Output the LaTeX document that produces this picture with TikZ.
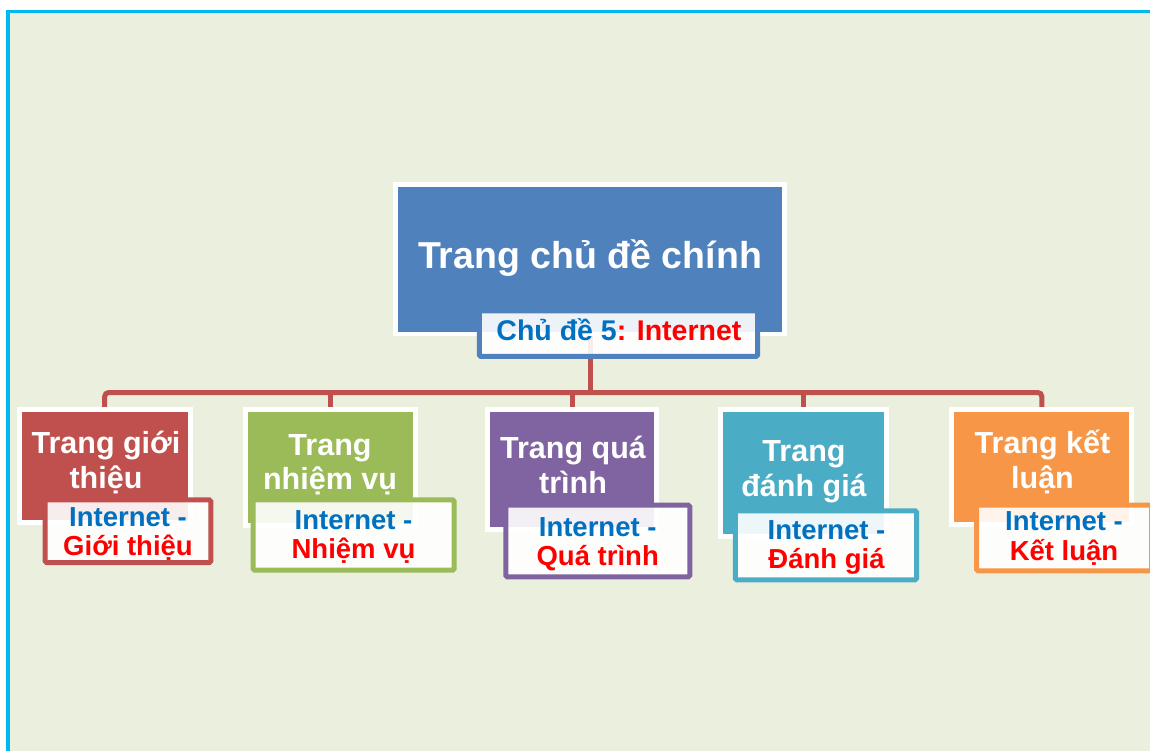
\documentclass[tikz,border=0pt]{standalone}
\usepackage{fontspec}
\setmainfont{Liberation Sans}
\definecolor{bgc}{RGB}{235,239,222}
\definecolor{framec}{RGB}{0,183,240}
\definecolor{connc}{HTML}{C0504D}
\definecolor{mainc}{HTML}{4F81BD}
\definecolor{redc}{HTML}{C0504D}
\definecolor{greenc}{HTML}{9BBB59}
\definecolor{purplec}{HTML}{8064A2}
\definecolor{aquac}{HTML}{4BACC6}
\definecolor{orangec}{HTML}{F79646}
\definecolor{tblue}{HTML}{0070C0}
\definecolor{tred}{HTML}{FF0000}
\tikzset{
  conn/.style={draw=connc, line width=5pt},
  colbox/.style={rectangle, draw=white, line width=5pt, fill=#1, inner sep=0pt},
  subbox/.style={rectangle, draw=#1, line width=5pt, fill=white, fill opacity=0.9, draw opacity=1, rounded corners=1.5pt, inner sep=0pt},
  ttl/.style={anchor=base, inner sep=0pt, text=white, font=\fontsize{30.5}{36}\selectfont\bfseries},
  subt/.style={anchor=base, inner sep=0pt, font=\fontsize{27.5}{33}\selectfont\bfseries},
}
\begin{document}
\begin{tikzpicture}[x=1pt,y=-1pt]
\useasboundingbox (0,0) rectangle (1150,751);
\fill[white] (0,0) rectangle (1150,751);
\fill[bgc] (10,13) rectangle (1150,751);
\fill[framec] (6,10) rectangle (1150,13.3);
\fill[framec] (6,10) rectangle (10,751);

% child boxes (positions)
\node[colbox=redc, minimum width=171pt, minimum height=112.7pt] (c1) at (104.7,466.2) {};
\node[colbox=greenc, minimum width=170.6pt, minimum height=116pt] (c2) at (330.5,467.5) {};
\node[colbox=purplec, minimum width=169pt, minimum height=119.4pt] (c3) at (572,469.5) {};
\node[colbox=aquac, minimum width=166pt, minimum height=126.7pt] (c4) at (803.8,473.2) {};
\node[colbox=orangec, minimum width=180pt, minimum height=114.4pt] (c5) at (1041.8,467) {};

% main box
\node[colbox=mainc, line width=4.5pt, minimum width=389pt, minimum height=149.5pt] (main) at (590,259.25) {};
\coordinate (bus) at (590,392.5);

% connectors
\draw[conn] (main.south) -- (main.south |- bus);
\draw[conn, rounded corners=4pt] (c1.north) -- (c1.north |- bus) -- (c5.north |- bus) -- (c5.north);
\draw[conn] (c2.north |- bus) -- (c2.north);
\draw[conn] (c3.north |- bus) -- (c3.north);
\draw[conn] (c4.north |- bus) -- (c4.north);

% redraw child box borders over connector ends
\node[colbox=redc, minimum width=171pt, minimum height=112.7pt] (c1r) at (c1) {};
\node[colbox=greenc, minimum width=170.6pt, minimum height=116pt] (c2r) at (c2) {};
\node[colbox=purplec, minimum width=169pt, minimum height=119.4pt] (c3r) at (c3) {};
\node[colbox=aquac, minimum width=166pt, minimum height=126.7pt] (c4r) at (c4) {};
\node[colbox=orangec, minimum width=180pt, minimum height=114.4pt] (c5r) at (c5) {};

% sub boxes
\node[subbox=mainc, minimum width=278.3pt, minimum height=45.7pt] (s0) at (618.4,333.6) {};
\node[subbox=redc, minimum width=165.6pt, minimum height=62.7pt] (s1) at (128,531.2) {};
\node[subbox=greenc, minimum width=201pt, minimum height=70.4pt] (s2) at (353.7,535) {};
\node[subbox=purplec, minimum width=184pt, minimum height=71.6pt] (s3) at (597.8,541) {};
\node[subbox=aquac, minimum width=181.3pt, minimum height=69pt] (s4) at (825.9,545.3) {};
\node[subbox=orangec, minimum width=175pt, minimum height=65.6pt] (s5) at (1064,538) {};

% texts
\node[ttl, font=\fontsize{37.5}{45}\selectfont\bfseries] (t0) at (590,268) {Trang chủ đề chính};
\node[subt, font=\fontsize{28.5}{34}\selectfont\bfseries] (u0) at (618.9,340.5) {\textcolor{tblue}{Chủ đề 5}\textcolor{tred}{: Internet}};

\node[ttl] (t1a) at (106,453) {Trang giới};
\node[ttl] (t1b) at (106,488) {thiệu};
\node[ttl] (t2a) at (330,455) {Trang};
\node[ttl] (t2b) at (330,489) {nhiệm vụ};
\node[ttl] (t3a) at (573,458.3) {Trang quá};
\node[ttl] (t3b) at (573,493.3) {trình};
\node[ttl] (t4a) at (804,461.7) {Trang};
\node[ttl] (t4b) at (804,496) {đánh giá};
\node[ttl] (t5a) at (1042.5,453.3) {Trang kết};
\node[ttl] (t5b) at (1042.5,488.3) {luận};

\node[subt, text=tblue] (u1a) at (128,526.7) {Internet -};
\node[subt, text=tred] (u1b) at (128,555) {Giới thiệu};
\node[subt, text=tblue] (u2a) at (353.5,529.3) {Internet -};
\node[subt, text=tred] (u2b) at (353.5,558.3) {Nhiệm vụ};
\node[subt, text=tblue] (u3a) at (597.7,536.7) {Internet -};
\node[subt, text=tred] (u3b) at (597.7,565) {Quá trình};
\node[subt, text=tblue] (u4a) at (826.5,539.3) {Internet -};
\node[subt, text=tred] (u4b) at (826.5,568.3) {Đánh giá};
\node[subt, text=tblue] (u5a) at (1064,530) {Internet -};
\node[subt, text=tred] (u5b) at (1064,560) {Kết luận};
\end{tikzpicture}
\end{document}
